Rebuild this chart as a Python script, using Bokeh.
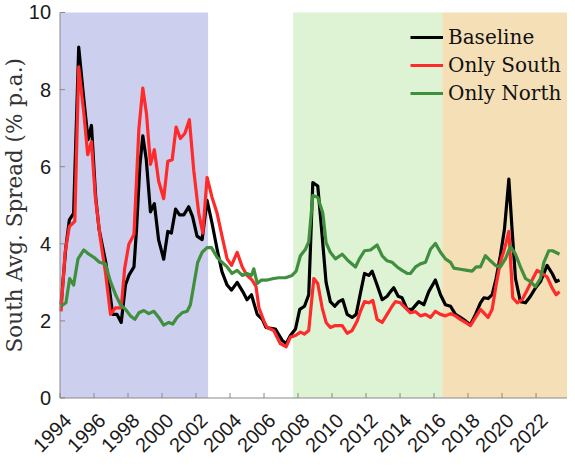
import math
from bokeh.plotting import figure
from bokeh.models import BoxAnnotation, Legend, LegendItem, Range1d, Label
from bokeh.embed import file_html
from bokeh.resources import INLINE

# ---- data ----
base_t = [1994.06, 1994.35, 1994.55, 1994.8, 1995.1, 1995.4, 1995.65, 1995.85, 1996.1, 1996.3,
          1996.7, 1996.9, 1997.1, 1997.35, 1997.6, 1997.85, 1998.05, 1998.35, 1998.5, 1998.7,
          1998.87, 1999.07, 1999.32, 1999.55, 1999.8, 2000.1, 2000.34, 2000.55, 2000.8, 2001.03,
          2001.28, 2001.57, 2001.8, 2002.06, 2002.36, 2002.65, 2002.94, 2003.24, 2003.53, 2003.83,
          2004.09, 2004.42, 2004.75, 2005.0, 2005.26, 2005.6, 2005.9, 2006.12, 2006.67, 2007.06,
          2007.3, 2007.55, 2007.85, 2008.1, 2008.38, 2008.63, 2008.87, 2009.16, 2009.42, 2009.65,
          2009.9, 2010.16, 2010.4, 2010.63, 2010.89, 2011.18, 2011.42, 2011.67, 2011.91, 2012.16,
          2012.36, 2012.65, 2012.95, 2013.24, 2013.44, 2013.63, 2013.89, 2014.12, 2014.42, 2014.71,
          2015.1, 2015.4, 2015.69, 2016.08, 2016.38, 2016.67, 2016.97, 2017.26, 2017.55, 2017.85,
          2018.14, 2018.44, 2018.73, 2018.93, 2019.18, 2019.42, 2019.65, 2019.9, 2020.14, 2020.4,
          2020.59, 2020.79, 2021.08, 2021.38, 2021.67, 2021.96, 2022.26, 2022.65, 2022.95, 2023.18,
          2023.38]
baseline = [2.42, 3.94, 4.62, 4.79, 9.1, 7.75, 6.7, 7.07, 5.2, 4.37,
            3.5, 2.85, 2.17, 2.17, 1.96, 2.93, 3.18, 3.4, 4.37, 6.05,
            6.8, 6.2, 4.83, 5.04, 4.1, 3.6, 4.32, 4.28, 4.9, 4.75,
            4.75, 4.96, 4.7, 4.2, 4.11, 5.13, 4.54, 3.86, 3.27, 2.93,
            2.8, 3.0, 2.76, 2.55, 2.68, 2.17, 2.04, 1.83, 1.79, 1.5,
            1.41, 1.62, 1.79, 2.3, 2.38, 2.68, 5.59, 5.5, 4.2, 3.0,
            2.5, 2.38, 2.5, 2.55, 2.17, 2.09, 2.17, 2.72, 3.23, 3.18,
            3.29, 2.93, 2.55, 2.64, 2.76, 2.86, 2.64, 2.6, 2.3, 2.3,
            2.5, 2.42, 2.76, 3.06, 2.68, 2.42, 2.38, 2.17, 2.09, 2.0,
            1.9, 2.17, 2.47, 2.6, 2.58, 2.68, 3.1, 3.69, 4.37, 5.68,
            4.37, 3.1, 2.5, 2.47, 2.64, 2.85, 3.02, 3.44, 3.23, 3.02,
            3.06]

south_t = [1994.06, 1994.3, 1994.55, 1994.87, 1995.1, 1995.4, 1995.63, 1995.85, 1996.08, 1996.38,
           1996.67, 1996.97, 1997.27, 1997.6, 1997.8, 1998.05, 1998.35, 1998.64, 1998.87, 1999.09,
           1999.32, 1999.55, 1999.8, 2000.1, 2000.34, 2000.6, 2000.83, 2001.08, 2001.34, 2001.61,
           2001.87, 2002.16, 2002.4, 2002.65, 2002.94, 2003.24, 2003.53, 2003.83, 2004.09, 2004.42,
           2004.72, 2005.0, 2005.3, 2005.53, 2005.7, 2005.99, 2006.18, 2006.57, 2006.96, 2007.3,
           2007.55, 2007.85, 2008.14, 2008.38, 2008.63, 2008.93, 2009.16, 2009.42, 2009.65, 2009.9,
           2010.2, 2010.6, 2010.89, 2011.18, 2011.48, 2011.67, 2011.91, 2012.16, 2012.4, 2012.65,
           2012.95, 2013.24, 2013.53, 2013.73, 2014.02, 2014.32, 2014.61, 2014.91, 2015.2, 2015.5,
           2015.79, 2016.08, 2016.38, 2016.67, 2016.97, 2017.26, 2017.55, 2017.85, 2018.14, 2018.44,
           2018.73, 2018.93, 2019.18, 2019.42, 2019.65, 2019.9, 2020.14, 2020.4, 2020.63, 2020.89,
           2021.18, 2021.48, 2021.77, 2022.06, 2022.36, 2022.65, 2022.95, 2023.18, 2023.38]
only_south = [2.25, 3.78, 4.45, 4.58, 8.59, 7.4, 6.31, 6.65, 5.2, 4.11,
              3.27, 2.17, 2.34, 2.34, 3.35, 3.99, 4.24, 6.98, 8.04, 7.36,
              6.06, 6.44, 5.63, 5.17, 6.14, 6.18, 7.03, 6.73, 6.86, 7.22,
              5.89, 4.79, 4.28, 5.72, 5.21, 4.79, 4.2, 3.61, 3.44, 3.78,
              3.4, 3.18, 3.06, 2.89, 2.34, 2.0, 1.83, 1.75, 1.41, 1.33,
              1.58, 1.62, 1.71, 1.66, 1.75, 3.1, 2.97, 2.34, 1.96, 1.83,
              1.88, 1.88, 1.68, 1.75, 2.0, 2.25, 2.5, 2.47, 2.53, 2.04,
              1.96, 2.17, 2.38, 2.5, 2.47, 2.34, 2.21, 2.24, 2.13, 2.17,
              2.09, 2.25, 2.17, 2.13, 2.19, 2.13, 2.04, 1.96, 1.88, 2.09,
              2.3, 2.21, 2.09, 2.3, 2.93, 3.52, 3.86, 4.32, 2.6, 2.47,
              2.55, 2.8, 3.06, 3.31, 3.23, 3.14, 2.85, 2.68, 2.76]

north_t = [1994.06, 1994.35, 1994.57, 1994.8, 1995.06, 1995.4, 1995.7, 1995.99, 1996.32, 1996.67,
           1996.97, 1997.27, 1997.56, 1997.85, 1998.15, 1998.4, 1998.64, 1998.93, 1999.22, 1999.52,
           1999.81, 2000.1, 2000.4, 2000.63, 2000.89, 2001.18, 2001.48, 2001.67, 2001.87, 2002.1,
           2002.36, 2002.65, 2002.91, 2003.24, 2003.53, 2003.83, 2004.12, 2004.42, 2004.72, 2005.0,
           2005.26, 2005.4, 2005.6, 2005.85, 2006.18, 2006.57, 2006.87, 2007.26, 2007.65, 2007.89,
           2008.14, 2008.44, 2008.63, 2008.87, 2009.16, 2009.46, 2009.65, 2009.9, 2010.2, 2010.6,
           2010.95, 2011.38, 2011.61, 2011.91, 2012.26, 2012.65, 2012.95, 2013.24, 2013.53, 2013.83,
           2014.12, 2014.42, 2014.61, 2014.91, 2015.2, 2015.5, 2015.79, 2016.08, 2016.38, 2016.67,
           2016.97, 2017.16, 2017.55, 2017.95, 2018.24, 2018.48, 2018.73, 2019.02, 2019.32, 2019.61,
           2019.9, 2020.2, 2020.49, 2020.79, 2021.08, 2021.38, 2021.67, 2021.96, 2022.26, 2022.46,
           2022.75, 2022.97, 2023.38]
only_north = [2.38, 2.47, 3.1, 2.93, 3.61, 3.84, 3.73, 3.65, 3.52, 3.48,
              3.02, 2.68, 2.42, 2.3, 2.13, 2.04, 2.21, 2.27, 2.19, 2.25,
              2.09, 1.89, 1.96, 1.92, 2.09, 2.21, 2.25, 2.42, 2.93, 3.52,
              3.78, 3.9, 3.9, 3.65, 3.52, 3.4, 3.23, 3.31, 3.18, 3.23,
              3.18, 3.35, 2.97, 3.06, 3.06, 3.1, 3.12, 3.12, 3.18, 3.29,
              3.69, 3.86, 4.05, 5.25, 5.21, 4.79, 4.03, 3.78, 3.61, 3.73,
              3.56, 3.4, 3.61, 3.82, 3.84, 3.97, 3.69, 3.56, 3.52, 3.4,
              3.31, 3.23, 3.23, 3.4, 3.48, 3.52, 3.86, 4.01, 3.78, 3.61,
              3.52, 3.37, 3.34, 3.31, 3.29, 3.4, 3.4, 3.69, 3.56, 3.44,
              3.4, 3.61, 3.93, 3.73, 3.4, 3.1, 3.02, 2.89, 3.1, 3.52,
              3.82, 3.82, 3.73]

series_names = ["Baseline", "Only South", "Only North"]
series_colors = ["#000000", "#ff2a2a", "#3f8f3f"]

shade_starts = [1994.0, 2007.71, 2016.48]
shade_ends = [2002.71, 2016.48, 2030.0]
shade_colors = ["#cdcfee", "#ddf3d4", "#f5dfb6"]

x_ticks = list(range(1994, 2023, 2))
x_tick_labels = [str(y) for y in x_ticks]
y_ticks = [0, 2, 4, 6, 8, 10]
y_tick_labels = [str(v) for v in y_ticks]
y_title = "South Avg. Spread (% p.a.)"
x_min, y_min, y_max = 1994, 0, 10

# ---- figure ----
# The frame fills the whole figure; both axes are drawn inside it at x=1994 and y=0
# so that the rotated year labels and value labels are never clipped.
x_lo, x_hi = 1990.5, 2023.85
p = figure(width=567, height=457, output_backend="svg", toolbar_location=None,
           x_range=Range1d(x_lo, x_hi), y_range=Range1d(-1.543, 10.311),
           min_border_left=0, min_border_right=0, min_border_top=0, min_border_bottom=0)
p.outline_line_color = None
p.grid.visible = False
p.axis.visible = False
p.background_fill_color = "white"
p.border_fill_color = "white"

for s, e, c in zip(shade_starts, shade_ends, shade_colors):
    p.add_layout(BoxAnnotation(left=s, right=e, bottom=y_min, top=y_max, fill_color=c,
                               fill_alpha=1.0, line_color=None, level="underlay"))

renderers = []
for t, v, c in zip([base_t, south_t, north_t], [baseline, only_south, only_north], series_colors):
    renderers.append(p.line(t, v, line_color=c, line_width=3.2, line_join="round"))

legend = Legend(items=[LegendItem(label=n, renderers=[r]) for n, r in zip(series_names, renderers)],
                location=(410, 352), background_fill_alpha=0, border_line_color=None,
                label_text_font="DejaVu Serif", label_text_font_size="20px",
                label_text_color="#111111",
                glyph_width=33, glyph_height=24, label_standoff=5, spacing=4,
                padding=0, margin=0)
p.add_layout(legend)

axis_col = "#888888"
lab_col = "#1a1a1a"

# x axis at y = 0
p.segment(x0=[x_min], y0=[y_min], x1=[x_hi], y1=[y_min], line_color=axis_col, line_width=1)
p.ray(x=x_ticks, y=[y_min] * len(x_ticks), length=5, length_units="screen",
      angle=math.pi / 2, line_color=axis_col, line_width=1)
for xt, lab in zip(x_ticks, x_tick_labels):
    p.add_layout(Label(x=xt, y=y_min, text=lab, angle=math.pi / 4,
                       x_offset=8, y_offset=-19, text_align="right", text_baseline="middle",
                       text_font="Liberation Sans", text_font_size="20px", text_color=lab_col))

# y axis at x = 1994
p.segment(x0=[x_min], y0=[y_min], x1=[x_min], y1=[y_max], line_color=axis_col, line_width=1)
p.ray(x=[x_min] * len(y_ticks), y=y_ticks, length=5, length_units="screen",
      angle=0, line_color=axis_col, line_width=1)
for yt, lab in zip(y_ticks, y_tick_labels):
    p.add_layout(Label(x=x_min, y=yt, text=lab, x_offset=-9, text_align="right",
                       text_baseline="middle", text_font="Liberation Sans",
                       text_font_size="20px", text_color=lab_col))
p.add_layout(Label(x=x_min, y=(y_min + y_max) / 2, text=y_title, angle=math.pi / 2,
                   x_offset=-46, text_align="center", text_baseline="middle",
                   text_font="DejaVu Serif", text_font_size="21.5px", text_color="#333333"))

open("out.html", "w").write(file_html(p, INLINE))
